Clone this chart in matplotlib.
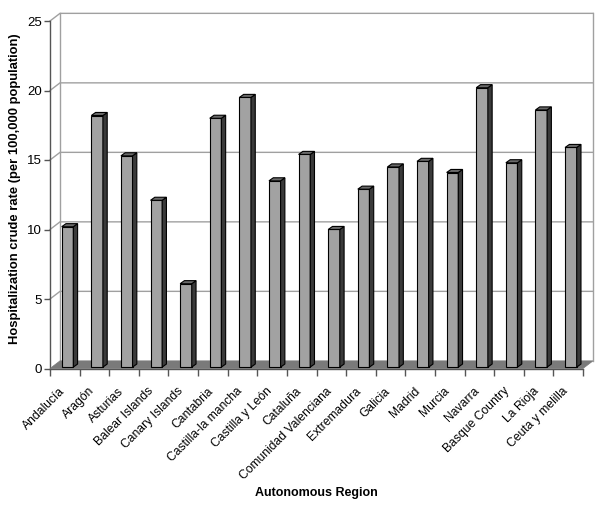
import matplotlib
matplotlib.use("Agg")
import matplotlib.pyplot as plt
import matplotlib.transforms as mtransforms
from matplotlib.patches import Polygon

regions = ["Andalucía", "Aragón", "Asturias", "Balear Islands", "Canary Islands",
           "Cantabria", "Castilla-la mancha", "Castilla y León", "Cataluña",
           "Comunidad Valenciana", "Extremadura", "Galicia", "Madrid", "Murcia",
           "Navarra", "Basque Country", "La Rioja", "Ceuta y melilla"]
rates = [10.1, 18.1, 15.2, 12.0, 6.0, 17.9, 19.4, 13.4, 15.3, 9.9,
         12.8, 14.4, 14.8, 14.0, 20.1, 14.7, 18.5, 15.8]
yticks = [0, 5, 10, 15, 20, 25]

plt.rcParams['font.family'] = ['Liberation Sans', 'DejaVu Sans']

fig = plt.figure(figsize=(6.0, 5.07), dpi=100)
W, H = 600, 507
ax = fig.add_axes([50 / W, (H - 368.5) / H, 533 / W, 347.5 / H])
n = len(regions)
ax.set_xlim(0, n)
ax.set_ylim(0, 25)
for s in ax.spines.values():
    s.set_visible(False)
ax.patch.set_visible(False)

# depth of the "3D" box in data units
DX, DY = 0.338, 0.55
grid_c = "#a0a0a0"

# back wall gridlines + left side wall diagonals
for v in yticks[1:]:
    ax.plot([0, DX, n + DX], [v, v + DY, v + DY], color=grid_c, lw=1.0,
            clip_on=False, zorder=1)
# back wall vertical edges
ax.plot([DX, DX], [DY, 25 + DY], color=grid_c, lw=1.0, clip_on=False, zorder=1)
ax.plot([n + DX, n + DX], [DY, 25 + DY], color=grid_c, lw=1.0, clip_on=False, zorder=1)
# front y-axis
ax.plot([0, 0], [0, 25], color="#555555", lw=1.0, clip_on=False, zorder=2)

# floor
floor = Polygon([(0, 0), (n, 0), (n + DX, DY), (DX, DY)], closed=True,
                facecolor="#7a7a7a", edgecolor="#7a7a7a", lw=0.5, zorder=2,
                clip_on=False)
ax.add_patch(floor)
ax.plot([0, n], [0, 0], color="#555555", lw=1.0, clip_on=False, zorder=3)

# bars with pseudo-3D faces
shift = mtransforms.ScaledTranslation(0, 1.4 / 100, fig.dpi_scale_trans)
tr = ax.transData + shift
bw = 0.392
left_off = 0.395
bdx, bdy = 0.145, 0.22
front_c, side_c, top_c = "#a2a2a2", "#3a3a3a", "#6a6a6a"
for i, v in enumerate(rates):
    x0 = i + left_off
    x1 = x0 + bw
    ax.bar(x0 + bw / 2, v, width=bw, bottom=0, color=front_c, edgecolor="black",
           linewidth=0.8, transform=tr, zorder=4, clip_on=False)
    side = Polygon([(x1, 0), (x1 + bdx, bdy), (x1 + bdx, v + bdy), (x1, v)],
                   closed=True, facecolor=side_c, edgecolor="black", lw=0.8,
                   transform=tr, zorder=4, clip_on=False)
    top = Polygon([(x0, v), (x1, v), (x1 + bdx, v + bdy), (x0 + bdx, v + bdy)],
                  closed=True, facecolor=top_c, edgecolor="black", lw=0.8,
                  transform=tr, zorder=4, clip_on=False)
    ax.add_patch(side)
    ax.add_patch(top)

# y ticks
ax.set_yticks(yticks)
ax.set_yticklabels([str(t) for t in yticks], fontsize=9.5)
ax.tick_params(axis='y', length=4, width=1, color="#555555", pad=2)

# x ticks: boundaries (marks) and centers (labels)
ax.set_xticks(range(n + 1))
ax.set_xticklabels([])
ax.tick_params(axis='x', which='major', length=5, width=1, color="#555555",
               direction='out')
ax.set_xticks([i + 0.5 for i in range(n)], minor=True)
ax.set_xticklabels(regions, minor=True, rotation=45, ha='right',
                   rotation_mode='anchor', fontsize=8.7)
ax.tick_params(axis='x', which='minor', length=0, pad=12)
lbl_shift = mtransforms.ScaledTranslation(-6 / 100, 0, fig.dpi_scale_trans)
for lbl in ax.get_xticklabels(minor=True):
    lbl.set_transform(lbl.get_transform() + lbl_shift)

fig.text(15 / W, 1 - 189 / H,
         "Hospitalization crude rate (per 100,000 population)",
         fontsize=9.4, fontweight='bold', rotation=90, ha='center', va='center')
fig.text(316 / W, 1 - 493 / H, "Autonomous Region", fontsize=9,
         fontweight='bold', ha='center', va='center')

fig.savefig("out.png", dpi=100)
